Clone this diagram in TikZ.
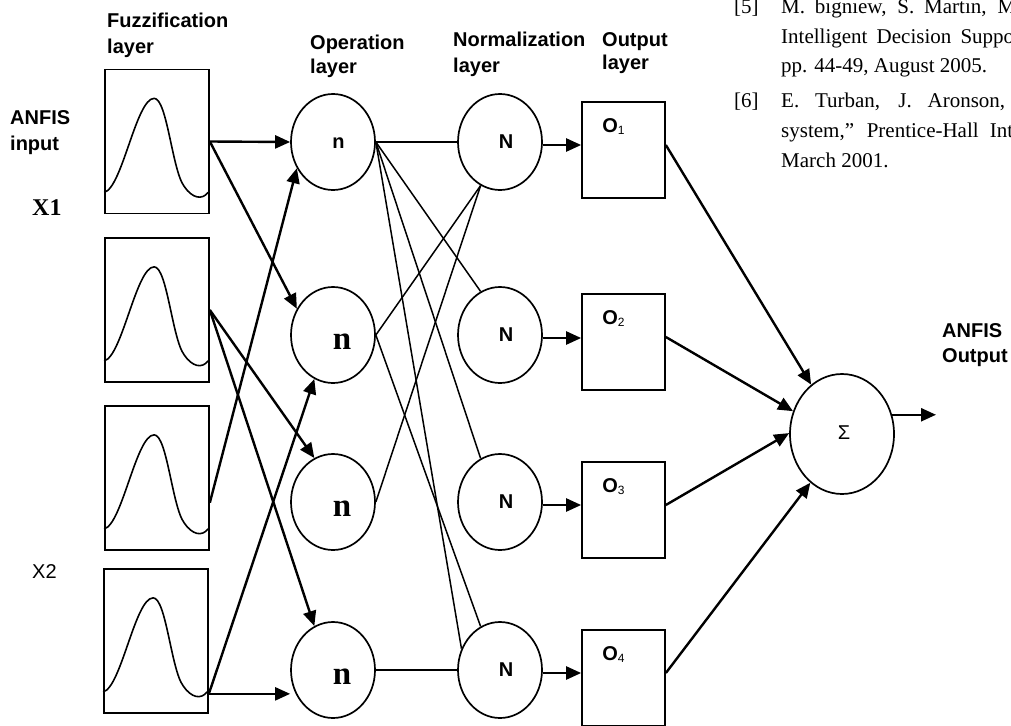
\documentclass[tikz,border=0pt]{standalone}
\usepackage{fontspec}
\setmainfont{Liberation Serif}
\newfontfamily\lsans{Liberation Sans}
\newfontfamily\tnr{Liberation Serif}
\usetikzlibrary{shapes.geometric,arrows.meta}
\newcommand{\olab}[1]{{\lsans\bfseries\fontsize{20}{24}\selectfont O}{\lsans\fontsize{12}{14}\selectfont\raisebox{-2pt}{#1}}}
\begin{document}
\begin{tikzpicture}[x=1pt,y=-1pt,
  shp/.style={draw, line width=1.7pt, inner sep=0pt},
  fbox/.style={shp, rectangle, minimum width=104pt, minimum height=144pt},
  obox/.style={shp, rectangle, minimum width=83pt, minimum height=96pt},
  neuron/.style={shp, ellipse, minimum width=84pt, minimum height=96pt},
  sumnode/.style={shp, ellipse, minimum width=104pt, minimum height=120pt},
  arr/.style={line width=2.4pt, -{Triangle[length=15pt,width=13pt]}},
  link/.style={line width=1.5pt},
  hd/.style={anchor=base west, inner sep=0pt, font=\lsans\bfseries\fontsize{20}{24}\selectfont},
  reftxt/.style={anchor=base west, inner sep=0pt, font=\tnr\fontsize{21}{25}\selectfont},
  lbla/.style={anchor=base, inner sep=0pt, font=\lsans\bfseries\fontsize{20}{24}\selectfont},
  lblt/.style={anchor=base, inner sep=0pt, font=\tnr\bfseries\fontsize{33}{36}\selectfont},
  olbl/.style={anchor=base west, inner sep=0pt, xshift=21pt, yshift=-31pt},
  gauss/.pic={\draw[line width=1.6pt] (0,-22) .. controls (18,-26) and (32,-116) .. (50,-116) .. controls (63,-116) and (68,-44) .. (80,-28) .. controls (88,-16) and (98,-14) .. (104,-22);}
]
\path[use as bounding box] (0,0) rectangle (1011,725);
\begin{scope}
\clip (0,0) rectangle (1011,725);

% fuzzification boxes
\node[fbox] (B1) at (157,141.5) {};
\node[fbox] (B2) at (157,310) {};
\node[fbox] (B3) at (157,478) {};
\node[fbox] (B4) at (156,641) {};
\pic at (B1.south west) {gauss};
\pic at (B2.south west) {gauss};
\pic at (B3.south west) {gauss};
\pic at (B4.south west) {gauss};

% operation layer
\node[neuron] (n1) at (333,142) {};
\node[neuron] (n2) at (333,335) {};
\node[neuron] (n3) at (333,502) {};
\node[neuron] (n4) at (333,670) {};
\node[lbla, xshift=5.5pt, yshift=-6pt] (tn1) at (n1.center) {n};
\node[lblt, xshift=9pt, yshift=-14pt] (tn2) at (n2.center) {n};
\node[lblt, xshift=9pt, yshift=-14pt] (tn3) at (n3.center) {n};
\node[lblt, xshift=9pt, yshift=-14pt] (tn4) at (n4.center) {n};

% normalization layer
\node[neuron] (N1) at (500,142) {};
\node[neuron] (N2) at (500,335) {};
\node[neuron] (N3) at (500,502) {};
\node[neuron] (N4) at (500,670) {};
\node[lbla, xshift=6pt, yshift=-6pt] (tN1) at (N1.center) {N};
\node[lbla, xshift=6pt, yshift=-6pt] (tN2) at (N2.center) {N};
\node[lbla, xshift=6pt, yshift=-6pt] (tN3) at (N3.center) {N};
\node[lbla, xshift=6pt, yshift=-6pt] (tN4) at (N4.center) {N};

% output layer
\node[obox] (O1) at (623.5,150) {};
\node[obox] (O2) at (623.5,342) {};
\node[obox] (O3) at (623.5,510) {};
\node[obox] (O4) at (623.5,678) {};
\node[olbl] (tO1) at (O1.north west) {\olab{1}};
\node[olbl] (tO2) at (O2.north west) {\olab{2}};
\node[olbl] (tO3) at (O3.north west) {\olab{3}};
\node[olbl] (tO4) at (O4.north west) {\olab{4}};

% sum node
\node[sumnode] (S) at (842,434) {};
\node[anchor=base, inner sep=0pt, font=\lsans\fontsize{20}{24}\selectfont, xshift=2pt, yshift=-5pt] (tS) at (S.center) {Σ};
\coordinate (out) at (936,415);

% fuzzification -> operation
\draw[arr] (B1.east) -- (n1.west);
\draw[arr] (B1.east) -- (n2.144);
\draw[arr] (B2.east) -- (n3.113);
\draw[arr] (B2.east) -- (n4.113);
\draw[arr] (B3.-25) -- (n1.216);
\draw[arr] (B4.-45) -- (n2.247);
\draw[arr] (B4.-45) -- (B4.-45 -| n4.west);

% operation -> normalization
\draw[link] (n1.east) -- (N1.west);
\draw[link] (n1.east) -- (N2.114);
\draw[link] (n1.east) -- (N3.114);
\draw[link] (n1.east) -- (N4.151);
\draw[link] (n2.east) -- (N1.246);
\draw[link] (n2.east) -- (N4.114);
\draw[link] (n3.east) -- (N1.246);
\draw[link] (n4.east) -- (N4.west);

% normalization -> output
\draw[arr] ([yshift=-3pt]N1.east) -- ([yshift=-3pt]N1.east -| O1.west);
\draw[arr] ([yshift=-3pt]N2.east) -- ([yshift=-3pt]N2.east -| O2.west);
\draw[arr] ([yshift=-3pt]N3.east) -- ([yshift=-3pt]N3.east -| O3.west);
\draw[arr] ([yshift=-3pt]N4.east) -- ([yshift=-3pt]N4.east -| O4.west);

% output -> sum
\draw[arr] ([yshift=5pt]O1.east) -- (S.122);
\draw[arr] ([yshift=5pt]O2.east) -- (S.155);
\draw[arr] ([yshift=5pt]O3.east) -- (S.179);
\draw[arr] ([yshift=5pt]O4.east) -- (S.237);
\draw[arr] (S.21) -- (S.21 -| out);

% headings and labels
\node[hd] (fz1) at (107,28) {Fuzzification};
\node[hd] (fz2) at (107,54) {layer};
\node[hd] (op1) at (310,50) {Operation};
\node[hd] (op2) at (310,74) {layer};
\node[hd] (nm1) at (453,47) {Normalization};
\node[hd] (nm2) at (453,72) {layer};
\node[hd] (ou1) at (602,47) {Output};
\node[hd] (ou2) at (602,70) {layer};
\node[hd] (ai1) at (10,124) {ANFIS};
\node[hd] (ai2) at (10,150) {input};
\node[anchor=base west, inner sep=0pt, font=\tnr\bfseries\fontsize{24}{28}\selectfont] (x1) at (32,215) {X1};
\node[anchor=base west, inner sep=0pt, font=\lsans\fontsize{20}{24}\selectfont] (x2) at (32,578) {X2};
\node[hd] (ao1) at (942,337) {ANFIS};
\node[hd] (ao2) at (942,362) {Output};

% reference text (top right)
\node[reftxt] (r1n) at (734,14) {[5]};
\node[reftxt] (r1) at (781,14) {\makebox[235pt][s]{M. bıgnıew, S. Martın, M}};
\node[reftxt] (r2) at (781,44) {\makebox[233pt][s]{Intelligent Decision Suppo}};
\node[reftxt] (r3) at (781,73) {pp. 44-49, August 2005.};
\node[reftxt] (r4n) at (734,107) {[6]};
\node[reftxt] (r4) at (781,107) {\makebox[224pt][s]{E. Turban, J. Aronson,}};
\node[reftxt] (r5) at (781,137) {\makebox[232pt][s]{system,” Prentice-Hall Int}};
\node[reftxt] (r6) at (781,167) {March 2001.};
\end{scope}
\end{tikzpicture}
\end{document}
